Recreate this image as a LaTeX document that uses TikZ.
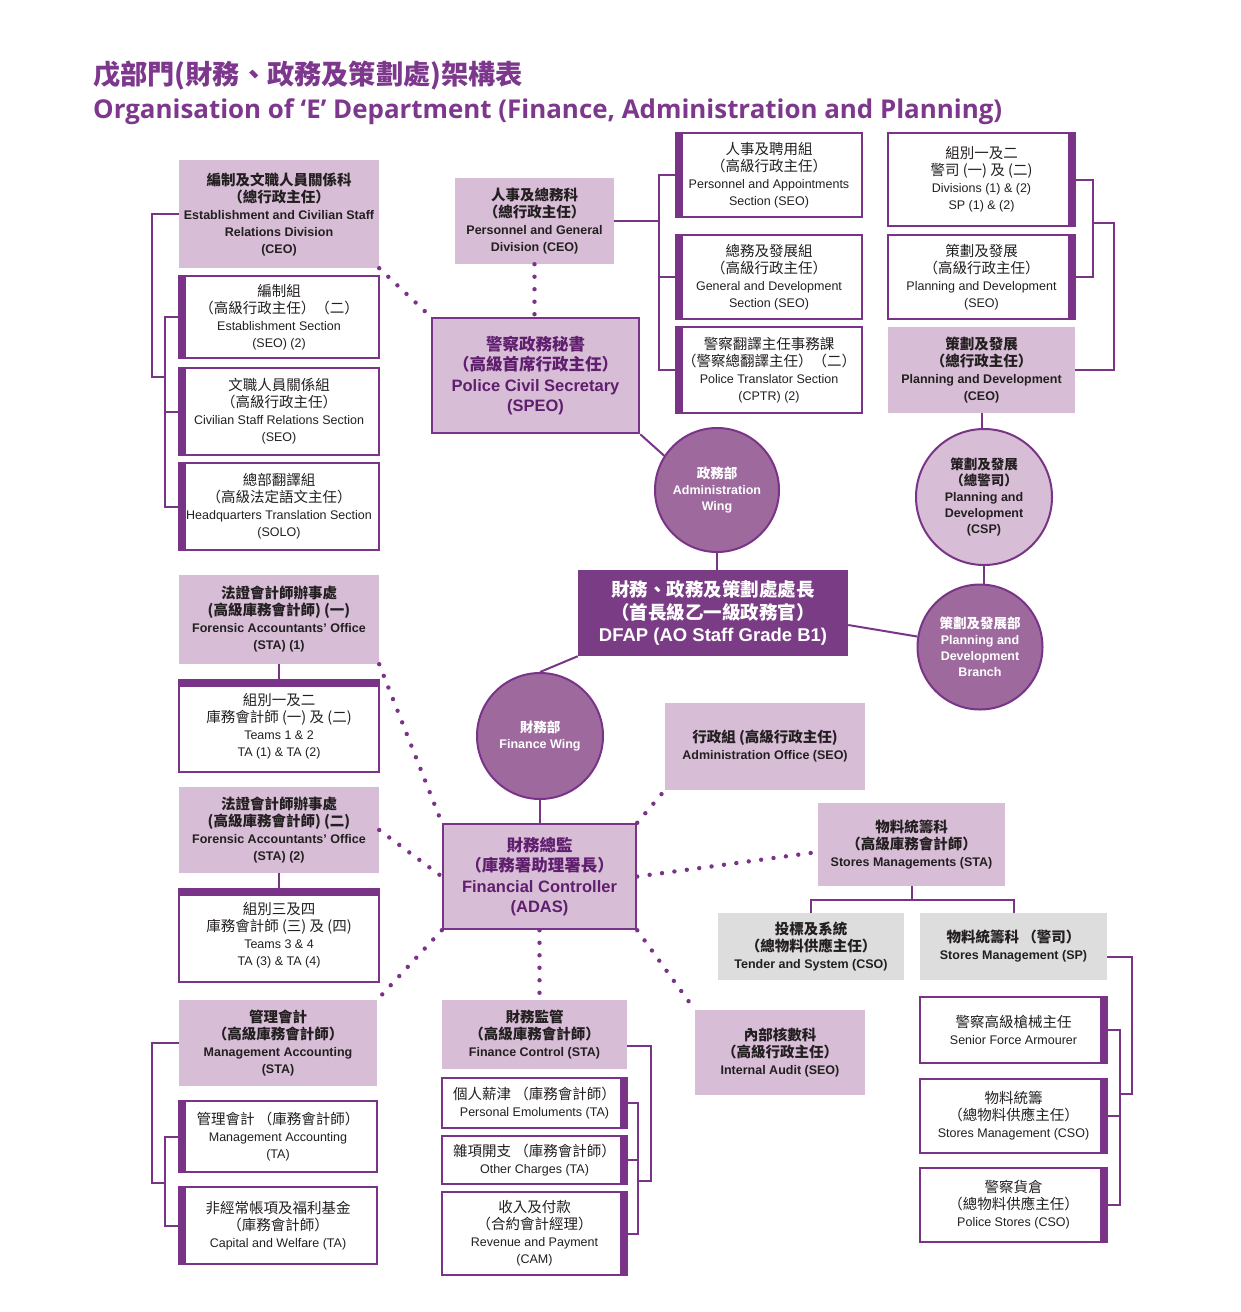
\documentclass[tikz,border=0pt]{standalone}
\usepackage{fontspec}
\setmainfont{Liberation Sans}
\newfontfamily\cjk{Noto Sans CJK TC}
\newfontfamily\ttlfont{Open Sans}
\usetikzlibrary{calc}
\definecolor{pline}{RGB}{122,52,135}
\definecolor{pdark}{RGB}{122,60,133}
\definecolor{pmid}{RGB}{158,106,158}
\definecolor{plight}{RGB}{215,190,214}
\definecolor{pgray}{RGB}{221,221,221}
\definecolor{ptitle}{RGB}{125,55,140}
\definecolor{ptext}{RGB}{95,30,110}
\definecolor{txt}{RGB}{35,31,32}
\newcommand\zhsz{14.5}
\newcommand\zh[1]{{\cjk\fontsize{\zhsz}{\zhsz}\selectfont #1}}
\newcommand\obox[7]{\node[#2,minimum width={(#5)-(#3)},minimum height={(#6)-(#4)}] (#1) at ({((#3)+(#5))/2},{((#4)+(#6))/2}) {#7};}
\tikzset{
  conn/.style={draw=pline, line width=2pt},
  dots/.style={draw=pline, line width=4.4pt, line cap=round, dash pattern=on 0pt off 12.5pt},
  wbox/.style={draw=pline, line width=2pt, fill=white, text=txt, align=center, inner sep=0pt, font=\fontsize{12.5}{17}\selectfont},
  lbox/.style={fill=plight, text=txt, align=center, inner sep=0pt, font=\fontsize{12.5}{17}\selectfont\bfseries},
  gbox/.style={lbox, fill=pgray},
  pbox/.style={fill=plight, draw=pline, line width=2.5pt, text=ptext, align=center, inner sep=0pt, font=\fontsize{16.5}{20.5}\selectfont\bfseries, execute at begin node={\def\zhsz{16.5}}},
  dbox/.style={fill=pdark, text=white, align=center, inner sep=0pt, font=\fontsize{18.5}{22.5}\selectfont\bfseries, execute at begin node={\def\zhsz{18.5}}},
  mcirc/.style={circle, fill=pmid, draw=pline, line width=2pt, text=white, align=center, inner sep=0pt, font=\fontsize{12.5}{16}\selectfont\bfseries, execute at begin node={\def\zhsz{13.5}}},
  lcirc/.style={mcirc, fill=plight, text=txt},
  leftbar/.style={path picture={\fill[pline] (path picture bounding box.north west) rectangle ([xshift=7pt]path picture bounding box.south west);}},
  rightbar/.style={path picture={\fill[pline] (path picture bounding box.north east) rectangle ([xshift=-7pt]path picture bounding box.south east);}},
  topbar/.style={path picture={\fill[pline] (path picture bounding box.north west) rectangle ([yshift=-7pt]path picture bounding box.north east);}},
}
\begin{document}
\begin{tikzpicture}[x=1pt,y=-1pt]
\useasboundingbox (0,0) rectangle (1240,1312);
\fill[white] (0,0) rectangle (1240,1312);

% titles
\node[anchor=base west, text=ptitle, inner sep=0pt, font=\cjk\bfseries\fontsize{27.2}{27.2}\selectfont] (t1) at (93,84) {戊部門(財務、政務及策劃處)架構表};
\node[anchor=base west, text=ptitle, inner sep=0pt, font=\ttlfont\bfseries\fontsize{25.9}{25.9}\selectfont] (t2) at (93,118) {Organisation of ‘E’ Department (Finance, Administration and Planning)};

% administration side
\obox{ecsrd}{lbox}{179}{160}{379}{268}{\zh{編制及文職人員關係科}\\\zh{（總行政主任）}\\Establishment and Civilian Staff\\Relations Division\\(CEO)}
\obox{est}{wbox,leftbar}{179}{276}{379}{358}{\zh{編制組}\\\zh{（高級行政主任）（二）}\\Establishment Section\\(SEO) (2)}
\obox{csr}{wbox,leftbar}{179}{368}{379}{455}{\zh{文職人員關係組}\\\zh{（高級行政主任）}\\Civilian Staff Relations Section\\(SEO)}
\obox{hq}{wbox,leftbar}{179}{463}{379}{550}{\zh{總部翻譯組}\\\zh{（高級法定語文主任）}\\Headquarters Translation Section\\(SOLO)}
\obox{pgd}{lbox}{455}{178}{614}{264}{\zh{人事及總務科}\\\zh{（總行政主任）}\\Personnel and General\\Division (CEO)}
\obox{pcs}{pbox}{432}{318}{639}{433}{\zh{警察政務秘書}\\\zh{（高級首席行政主任）}\\Police Civil Secretary\\(SPEO)}
\obox{pa}{wbox,leftbar}{676}{133}{862}{217}{\zh{人事及聘用組}\\\zh{（高級行政主任）}\\Personnel and Appointments\\Section (SEO)}
\obox{gd}{wbox,leftbar}{676}{235}{862}{319}{\zh{總務及發展組}\\\zh{（高級行政主任）}\\General and Development\\Section (SEO)}
\obox{pts}{wbox,leftbar}{676}{327}{862}{413}{\zh{警察翻譯主任事務課}\\\zh{（警察總翻譯主任）（二）}\\Police Translator Section\\(CPTR) (2)}
\obox{div}{wbox,rightbar}{888}{133}{1075}{226}{\zh{組別一及二}\\\zh{警司 (一) 及 (二)}\\Divisions (1) \& (2)\\SP (1) \& (2)}
\obox{pdseo}{wbox,rightbar}{888}{235}{1075}{319}{\zh{策劃及發展}\\\zh{（高級行政主任）}\\Planning and Development\\(SEO)}
\obox{pdceo}{lbox}{888}{327}{1075}{413}{\zh{策劃及發展}\\\zh{（總行政主任）}\\Planning and Development\\(CEO)}

\node[mcirc, minimum size=124pt] (aw) at (717,490) {\zh{政務部}\\Administration\\Wing};
\node[lcirc, minimum size=136pt] (csp) at (984,497) {\zh{策劃及發展}\\\zh{（總警司）}\\Planning and\\Development\\(CSP)};
\node[mcirc, minimum size=125pt] (pdb) at (980,647) {\zh{策劃及發展部}\\Planning and\\Development\\Branch};
\obox{dfap}{dbox}{578}{570}{848}{656}{\zh{財務、政務及策劃處處長}\\\zh{（首長級乙一級政務官）}\\DFAP (AO Staff Grade B1)}
\node[mcirc, minimum size=126pt] (fw) at (540,736) {\zh{財務部}\\Finance Wing};

% finance side
\obox{fao1}{lbox}{179}{575}{379}{664}{\zh{法證會計師辦事處}\\\zh{(高級庫務會計師) (一)}\\Forensic Accountants' Office\\(STA) (1)}
\obox{t12}{wbox,topbar}{179}{680}{379}{772}{\zh{組別一及二}\\\zh{庫務會計師 (一) 及 (二)}\\Teams 1 \& 2\\TA (1) \& TA (2)}
\obox{fao2}{lbox}{179}{787}{379}{873}{\zh{法證會計師辦事處}\\\zh{(高級庫務會計師) (二)}\\Forensic Accountants' Office\\(STA) (2)}
\obox{t34}{wbox,topbar}{179}{889}{379}{982}{\zh{組別三及四}\\\zh{庫務會計師 (三) 及 (四)}\\Teams 3 \& 4\\TA (3) \& TA (4)}
\obox{fc}{pbox}{443}{824}{636}{929}{\zh{財務總監}\\\zh{（庫務署助理署長）}\\Financial Controller\\(ADAS)}
\obox{ao}{lbox}{665}{703}{865}{790}{\zh{行政組 (高級行政主任)}\\Administration Office (SEO)}
\obox{smsta}{lbox}{818}{803}{1005}{886}{\zh{物料統籌科}\\\zh{（高級庫務會計師）}\\Stores Managements (STA)}
\obox{ts}{gbox}{718}{913}{904}{980}{\zh{投標及系統}\\\zh{（總物料供應主任）}\\Tender and System (CSO)}
\obox{smsp}{gbox}{920}{913}{1107}{980}{\zh{物料統籌科 （警司）}\\Stores Management (SP)}
\obox{sfa}{wbox,rightbar}{920}{997}{1107}{1063}{\zh{警察高級槍械主任}\\Senior Force Armourer}
\obox{smcso}{wbox,rightbar}{920}{1079}{1107}{1153}{\zh{物料統籌}\\\zh{（總物料供應主任）}\\Stores Management (CSO)}
\obox{ps}{wbox,rightbar}{920}{1168}{1107}{1242}{\zh{警察貨倉}\\\zh{（總物料供應主任）}\\Police Stores (CSO)}
\obox{ia}{lbox}{695}{1010}{865}{1095}{\zh{內部核數科}\\\zh{（高級行政主任）}\\Internal Audit (SEO)}
\obox{fcsta}{lbox}{442}{1000}{627}{1069}{\zh{財務監管}\\\zh{（高級庫務會計師）}\\Finance Control (STA)}
\obox{pe}{wbox,rightbar}{442}{1078}{627}{1128}{\zh{個人薪津 （庫務會計師）}\\Personal Emoluments (TA)}
\obox{oc}{wbox,rightbar}{442}{1136}{627}{1184}{\zh{雜項開支 （庫務會計師）}\\Other Charges (TA)}
\obox{rp}{wbox,rightbar}{442}{1192}{627}{1275}{\zh{收入及付款}\\\zh{（合約會計經理）}\\Revenue and Payment\\(CAM)}
\obox{masta}{lbox}{179}{1000}{377}{1086}{\zh{管理會計}\\\zh{（高級庫務會計師）}\\Management Accounting\\(STA)}
\obox{mata}{wbox,leftbar}{179}{1101}{377}{1172}{\zh{管理會計 （庫務會計師）}\\Management Accounting\\(TA)}
\obox{cw}{wbox,leftbar}{179}{1187}{377}{1264}{\zh{非經常帳項及福利基金}\\\zh{（庫務會計師）}\\Capital and Welfare (TA)}

% bracket coordinates
\coordinate (xL1) at (165,0);
\coordinate (xM) at (659,0);
\coordinate (xR1) at (1093,0);
\coordinate (xS1) at (1120,0);
\coordinate (xF1) at (638,0);

% solid connectors
\draw[conn] (ecsrd.west) -| (152,377) -- (165,377);
\draw[conn] (est.west) -- (est.west -| xL1) -- (hq.west -| xL1) -- (hq.west);
\draw[conn] (csr.west) -- (csr.west -| xL1);
\draw[conn] (pa.west) -- (pa.west -| xM) -- (pts.west -| xM) -- (pts.west);
\draw[conn] (gd.west) -- (gd.west -| xM);
\draw[conn] (pgd.east) -- (pgd.east -| xM);
\draw[conn] (div.east) -- (div.east -| xR1) -- (pdseo.east -| xR1) -- (pdseo.east);
\draw[conn] (pdceo.east) -| (1114,223) -- (1093,223);
\draw[conn] (pcs.south east) -- (aw.147);
\draw[conn] (aw.south) -- (aw.south |- dfap.north);
\draw[conn] (pdceo.south) -- (pdceo.south |- csp.north);
\draw[conn] (csp.south) -- (csp.south |- pdb.north);
\draw[conn] ([yshift=-12pt]dfap.east) -- (pdb);
\draw[conn] (dfap.south west) -- (fw.north);
\draw[conn] (fw.south) -- (fw.south |- fc.north);
\draw[conn] (fao1.south) -- (fao1.south |- t12.north);
\draw[conn] (fao2.south) -- (fao2.south |- t34.north);
\coordinate (bj) at (0,900);
\draw[conn] (smsta.south) -- (smsta.south |- bj);
\draw[conn] (ts.north) -- (ts.north |- bj) -- (smsp.north |- bj) -- (smsp.north);
\draw[conn] ([yshift=-10pt]smsp.east) -| (1132,1094) -- (1120,1094);
\draw[conn] (sfa.east) -- (sfa.east -| xS1) -- (ps.east -| xS1) -- (ps.east);
\draw[conn] (smcso.east) -- (smcso.east -| xS1);
\draw[conn] ([yshift=-11pt]fcsta.east) -| (651,1181) -- (638,1181);
\draw[conn] (pe.east) -- (pe.east -| xF1) -- (rp.east -| xF1) -- (rp.east);
\draw[conn] (oc.east) -- (oc.east -| xF1);
\draw[conn] (masta.west) -| (152,1183) -- (165,1183);
\draw[conn] (mata.west) -- (mata.west -| xL1) -- (cw.west -| xL1) -- (cw.west);

% dotted connectors
\draw[dots] (ecsrd.south east) -- (pcs.north west);
\draw[dots] (pgd.south) -- (pgd.south |- pcs.north);
\draw[dots] (fao1.south east) -- (fc.north west);
\draw[dots] (fao2.east) -- (fc.west);
\draw[dots] (fc.south west) -- (masta.north east);
\draw[dots] (fc.south) -- (fc.south |- fcsta.north);
\draw[dots] (fc.south east) -- (ia.north west);
\draw[dots] (fc.north east) -- (ao.south west);
\draw[dots] (fc.east) -- ([yshift=-7.5pt]smsta.west);
\end{tikzpicture}
\end{document}
